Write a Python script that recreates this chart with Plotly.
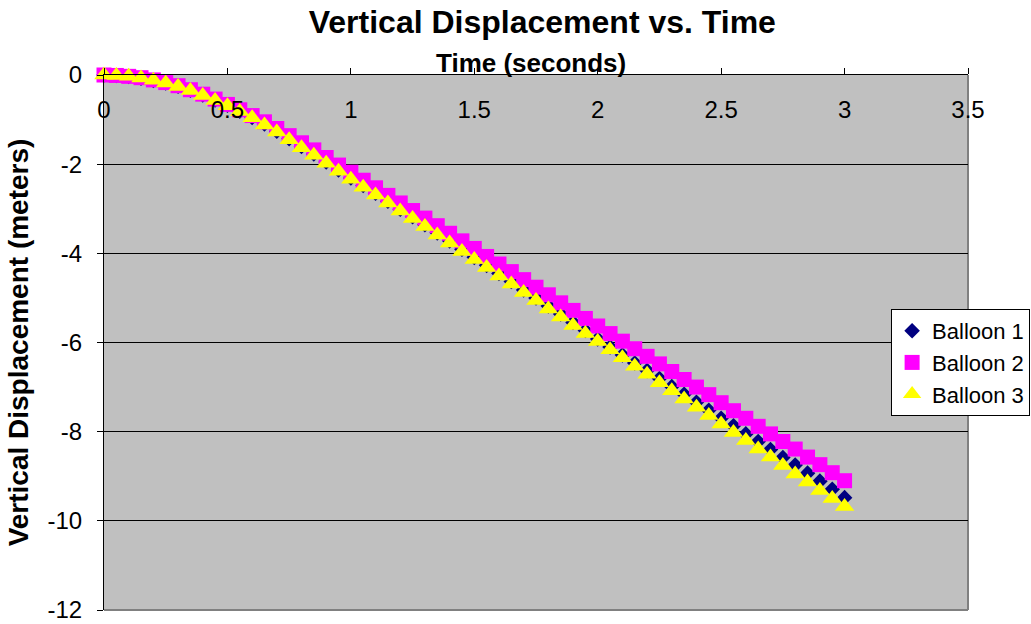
import plotly.graph_objects as go

# ---- data ----
time_s = [0.00, 0.05, 0.10, 0.15, 0.20, 0.25, 0.30, 0.35, 0.40, 0.45,
          0.50, 0.55, 0.60, 0.65, 0.70, 0.75, 0.80, 0.85, 0.90, 0.95,
          1.00, 1.05, 1.10, 1.15, 1.20, 1.25, 1.30, 1.35, 1.40, 1.45,
          1.50, 1.55, 1.60, 1.65, 1.70, 1.75, 1.80, 1.85, 1.90, 1.95,
          2.00, 2.05, 2.10, 2.15, 2.20, 2.25, 2.30, 2.35, 2.40, 2.45,
          2.50, 2.55, 2.60, 2.65, 2.70, 2.75, 2.80, 2.85, 2.90, 2.95,
          3.00]

balloon_1 = [0.00, -0.01, -0.03, -0.07, -0.12, -0.18, -0.25, -0.34, -0.45, -0.56,
             -0.68, -0.81, -0.95, -1.10, -1.26, -1.43, -1.60, -1.77, -1.95, -2.13,
             -2.31, -2.48, -2.65, -2.83, -3.01, -3.18, -3.36, -3.54, -3.72, -3.91,
             -4.09, -4.27, -4.45, -4.63, -4.82, -5.00, -5.18, -5.36, -5.55, -5.73,
             -5.92, -6.10, -6.28, -6.46, -6.63, -6.81, -6.99, -7.16, -7.34, -7.52,
             -7.70, -7.87, -8.05, -8.22, -8.40, -8.58, -8.75, -8.93, -9.11, -9.29,
             -9.48]

balloon_2 = [0.00, -0.01, -0.03, -0.06, -0.11, -0.17, -0.24, -0.33, -0.43, -0.54,
             -0.66, -0.78, -0.91, -1.05, -1.20, -1.36, -1.52, -1.68, -1.85, -2.02,
             -2.18, -2.36, -2.53, -2.70, -2.87, -3.04, -3.21, -3.38, -3.55, -3.72,
             -3.89, -4.07, -4.24, -4.41, -4.59, -4.76, -4.93, -5.11, -5.28, -5.46,
             -5.63, -5.80, -5.97, -6.14, -6.31, -6.48, -6.65, -6.83, -7.00, -7.17,
             -7.35, -7.53, -7.70, -7.88, -8.05, -8.22, -8.39, -8.57, -8.74, -8.92,
             -9.10]

balloon_3 = [0.00, -0.01, -0.03, -0.07, -0.12, -0.18, -0.26, -0.35, -0.46, -0.57,
             -0.69, -0.82, -0.96, -1.12, -1.28, -1.45, -1.63, -1.80, -1.98, -2.16,
             -2.34, -2.52, -2.69, -2.87, -3.05, -3.22, -3.40, -3.59, -3.77, -3.96,
             -4.14, -4.32, -4.51, -4.69, -4.88, -5.06, -5.25, -5.43, -5.62, -5.80,
             -5.98, -6.16, -6.34, -6.53, -6.71, -6.90, -7.08, -7.27, -7.45, -7.64,
             -7.83, -8.02, -8.20, -8.39, -8.57, -8.76, -8.95, -9.13, -9.32, -9.50,
             -9.68]

series_names = ["Balloon 1", "Balloon 2", "Balloon 3"]

x_tick_vals = [0, 0.5, 1, 1.5, 2, 2.5, 3, 3.5]
x_tick_labels = ["0", "0.5", "1", "1.5", "2", "2.5", "3", "3.5"]
y_tick_vals = [-12, -10, -8, -6, -4, -2, 0]
y_tick_labels = ["-12", "-10", "-8", "-6", "-4", "-2", "0"]

FONT = "Arial, Liberation Sans, sans-serif"

fig = go.Figure()
styles = [
    dict(symbol="diamond", color="#000080", size=12),
    dict(symbol="square", color="#FF00FF", size=15),
    dict(symbol="triangle-up", color="#FFFF00", size=17),
]
for name, ys, st in zip(series_names, [balloon_1, balloon_2, balloon_3], styles):
    fig.add_trace(go.Scatter(
        x=time_s, y=ys, name=name, mode="markers",
        marker=dict(symbol=st["symbol"], color=st["color"], size=st["size"],
                    line=dict(width=0)),
        cliponaxis=False,
    ))

fig.update_layout(
    width=1031, height=624, autosize=False,
    margin=dict(l=104, r=63, t=75, b=14, autoexpand=False),
    paper_bgcolor="white",
    plot_bgcolor="#C0C0C0",
    font=dict(family=FONT, color="black", size=24),
    title=dict(text="<b>Vertical Displacement vs. Time</b>",
               x=0.526, xanchor="center", y=0.965, yanchor="middle",
               font=dict(family=FONT, size=32, color="black")),
    xaxis=dict(
        range=[0, 3.5], side="top", automargin=False,
        tickmode="array", tickvals=x_tick_vals, ticktext=x_tick_labels,
        ticks="outside", ticklen=6, tickcolor="black", tickwidth=1,
        ticklabelposition="inside", ticklabeloverflow="allow",
        ticklabelstandoff=28,
        tickfont=dict(family=FONT, size=24, color="black"),
        showline=True, linecolor="black", linewidth=1,
        showgrid=False, zeroline=False,
    ),
    yaxis=dict(
        range=[-12, 0], automargin=False,
        tickmode="array", tickvals=y_tick_vals, ticktext=y_tick_labels,
        ticks="outside", ticklen=6, tickcolor="black", tickwidth=1,
        ticklabelstandoff=10,
        tickfont=dict(family=FONT, size=24, color="black"),
        showline=True, linecolor="black", linewidth=1,
        showgrid=True, gridcolor="black", gridwidth=1,
        zeroline=False,
        title=dict(text="<b>Vertical Displacement (meters)</b>", standoff=10,
                   font=dict(family=FONT, size=28, color="black")),
    ),
    legend=dict(
        x=0.911, y=0.5626, xanchor="left", yanchor="top",
        bgcolor="white", bordercolor="black", borderwidth=1,
        font=dict(family=FONT, size=22, color="black"),
        tracegroupgap=0, itemsizing="trace",
    ),
    showlegend=True,
)

# x-axis title sits above the top axis line
fig.add_annotation(text="<b>Time (seconds)</b>", xref="paper", yref="paper",
                   x=0.494, y=1, xanchor="center", yanchor="middle", yshift=12,
                   showarrow=False, font=dict(family=FONT, size=26, color="black"))

# gray plot-area border (bottom and right), as in the reference
fig.add_shape(type="line", xref="paper", yref="paper", x0=0, x1=1, y0=0, y1=0,
              line=dict(color="#808080", width=2), layer="above")
fig.add_shape(type="line", xref="paper", yref="paper", x0=1, x1=1, y0=0, y1=1,
              line=dict(color="#808080", width=2), layer="below")

fig.write_html("out.html")
